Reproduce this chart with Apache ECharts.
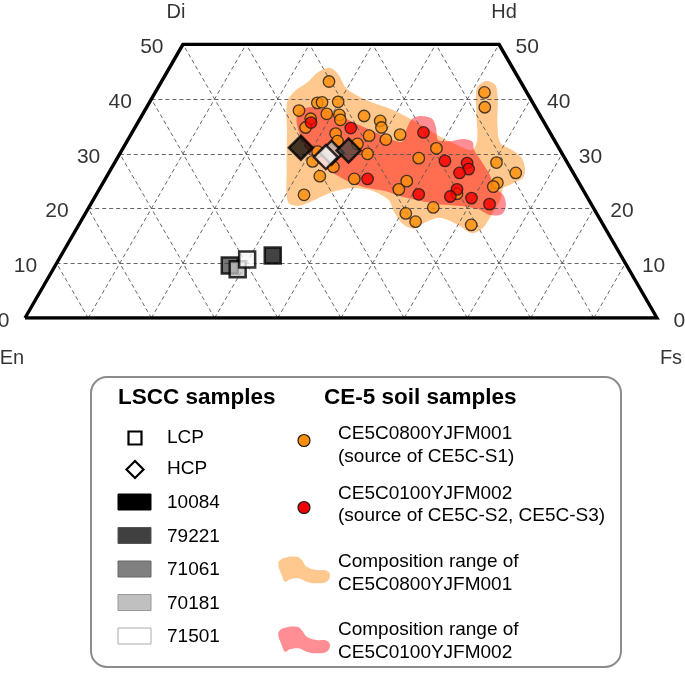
<!DOCTYPE html>
<html><head><meta charset="utf-8">
<script src="https://cdn.jsdelivr.net/npm/echarts@6/dist/echarts.min.js"></script>
<style>html,body{margin:0;padding:0;background:#fff}#c{width:685px;height:684px}</style>
</head><body><div id="c"></div>
<script>
const FONT = '"Liberation Sans", Arial, Helvetica, sans-serif';

// End members of the pyroxene quadrilateral (Wo, Fs in mol%)
const cornerNames = ['En', 'Di', 'Hd', 'Fs'];
const cornerWo = [0, 50, 50, 0];
const cornerFs = [0, 0, 50, 100];
const woTicks = [0, 10, 20, 30, 40, 50];
const gridSteps = [10, 20, 30, 40, 50, 60, 70, 80, 90];

// CE5C0800YJFM001 (orange) pyroxenes: Wo, Fs
const ce800Wo = [43.2, 39.3, 39.4, 39.5, 37.9, 36.4, 37.3, 37.1, 36.2, 36.9, 36.0, 34.8, 34.8, 33.7, 32.3, 31.8, 33.3, 32.6, 33.5, 30.0, 30.4, 28.6, 27.6, 25.9, 25.4, 23.5, 25.0, 22.5, 41.2, 38.5, 31.0, 29.2, 28.4, 26.5, 24.7, 24.0, 20.2, 19.1, 17.6, 17.0, 22.7];
const ce800Fs = [26.5, 26.6, 27.3, 29.8, 24.4, 27.0, 29.1, 31.2, 31.8, 35.2, 38.2, 39.0, 27.0, 32.3, 33.3, 36.7, 37.8, 40.8, 42.6, 39.2, 31.1, 31.2, 35.0, 33.7, 39.4, 47.4, 47.9, 32.9, 52.1, 53.5, 49.6, 47.7, 60.4, 64.4, 62.4, 62.1, 54.5, 50.7, 53.0, 62.1, 57.0];

// CE5C0100YJFM002 (red) pyroxenes: Wo, Fs
const ce100Wo = [35.7, 34.7, 25.4, 33.9, 28.7, 28.3, 27.2, 26.5, 23.5, 22.2, 22.6, 21.9, 20.8];
const ce100Fs = [27.4, 34.2, 41.5, 46.1, 52.1, 55.8, 56.6, 55.5, 56.6, 56.2, 51.0, 59.7, 63.1];

// LSCC samples
const sampleNames = ['10084', '79221', '71061', '70181', '71501'];
const sampleFill = ['rgba(0,0,0,0.92)', 'rgba(64,64,64,0.9)', 'rgba(128,128,128,0.9)', 'rgba(192,192,192,0.95)', 'rgba(250,250,250,0.95)'];
const sampleLegendFill = ['#000000', '#404040', '#808080', '#c0c0c0', '#ffffff'];
const sampleLegendStroke = ['#000000', '#555555', '#666666', '#999999', '#aaaaaa'];

const lcpSample = ['79221', '70181', '71501', '10084'];
const lcpWo = [9.6, 8.9, 10.7, 11.4];
const lcpFs = [27.6, 29.2, 29.8, 33.5];

const hcpSample = ['10084', '70181', '71501', '79221'];
const hcpWo = [31.1, 30.2, 29.4, 30.6];
const hcpFs = [28.1, 33.4, 32.9, 35.9];

// Composition range outlines: Wo, Fs
const range800Wo = [44.9, 45.7, 44.6, 42.0, 40.6, 39.3, 38.2, 36.9, 35.4, 33.2, 31.8, 30.7, 32.5, 38.0, 42.0, 43.3, 42.6, 40.2, 35.3, 32.0, 30.7, 29.4, 27.4, 25.6, 24.5, 23.7, 21.6, 19.0, 16.4, 15.5, 17.0, 18.3, 17.4, 16.3, 17.2, 19.4, 21.6, 23.4, 23.7, 23.0, 21.6, 20.5, 21.2, 27.0, 34.3, 39.3, 41.3, 43.1];
const range800Fs = [23.9, 25.4, 27.2, 29.8, 32.3, 35.4, 38.7, 41.7, 44.8, 49.0, 52.1, 55.4, 55.3, 52.4, 50.5, 51.3, 53.1, 54.7, 57.1, 59.2, 61.7, 63.8, 65.4, 66.0, 64.8, 63.8, 64.4, 64.4, 64.2, 63.0, 60.0, 56.5, 54.5, 53.4, 51.1, 48.7, 46.7, 42.9, 39.5, 37.1, 35.1, 33.0, 31.0, 27.9, 24.3, 21.8, 21.9, 23.2];
const range100Wo = [37.6, 38.5, 38.0, 36.9, 35.6, 34.2, 32.7, 32.2, 34.7, 36.4, 36.9, 36.4, 34.7, 32.5, 32.3, 32.7, 32.2, 30.7, 28.9, 26.1, 23.7, 22.5, 20.6, 19.0, 18.8, 19.9, 20.5, 20.8, 21.4, 22.3, 23.2, 23.9, 25.0, 26.5, 28.0, 30.1, 32.5, 35.3];
const range100Fs = [24.4, 25.8, 28.5, 31.4, 34.4, 37.8, 41.4, 43.6, 43.1, 43.1, 44.1, 46.2, 47.7, 49.1, 51.1, 53.0, 54.7, 55.7, 57.6, 60.5, 62.5, 64.4, 65.8, 66.0, 64.2, 61.7, 58.6, 55.2, 51.8, 48.2, 45.4, 41.8, 38.6, 35.5, 32.7, 30.0, 27.6, 25.4];

const ORANGE = '#FF8E0A', RED = '#F50000', PEACH = '#FFC88E', PINK = '#FF8E94', SALMON = '#FF6E50';

// quadrilateral coordinates: x = Fs + Wo/2, y = Wo
function xy(wo, fs) { return [fs + wo / 2, wo]; }

const chart = echarts.init(document.getElementById('c'), null, { renderer: 'canvas' });

function ranges(params, api) {
  if (params.dataIndex !== 0) return null;
  const orangePts = range800Wo.map((w, i) => api.coord(xy(w, range800Fs[i])));
  const redPts = range100Wo.map((w, i) => api.coord(xy(w, range100Fs[i])));
  return {
    type: 'group',
    children: [
      { type: 'polygon', shape: { points: orangePts, smooth: 0.3 }, style: { fill: PEACH } },
      { type: 'polygon', shape: { points: redPts, smooth: 0.3 }, style: { fill: PINK } },
      { type: 'polygon', shape: { points: redPts, smooth: 0.3 }, style: { fill: SALMON },
        clipPath: { type: 'polygon', shape: { points: orangePts, smooth: 0.3 } } }
    ]
  };
}

// dashed internal grid
const gridLines = [];
[10, 20, 30, 40].forEach(w => gridLines.push({ coords: [xy(w, 0), xy(w, 100 - w)] }));
gridSteps.forEach(f => { const wEnd = Math.min(50, 100 - f); gridLines.push({ coords: [xy(0, f), xy(wEnd, f)] }); });
gridSteps.forEach(e => { const wEnd = Math.min(50, 100 - e); gridLines.push({ coords: [xy(0, 100 - e), xy(wEnd, 100 - e - wEnd)] }); });

const outline = [0, 1, 2, 3, 0].map(i => xy(cornerWo[i], cornerFs[i]));

function fillOf(name) { return sampleFill[sampleNames.indexOf(name)]; }

const labelBase = { show: true, color: '#000', fontFamily: FONT, fontSize: 21 };

const option = {
  animation: false,
  grid: { left: 25, top: 44.3, width: 632, height: 273.7 },
  xAxis: { type: 'value', min: 0, max: 100, show: false },
  yAxis: { type: 'value', min: 0, max: 50, show: false },
  series: [
    {
      type: 'custom', coordinateSystem: 'cartesian2d', z: 1, silent: true, clip: false,
      data: range800Wo.map((w, i) => xy(w, range800Fs[i])),
      renderItem: ranges
    },
    {
      type: 'lines', coordinateSystem: 'cartesian2d', z: 3, silent: true,
      lineStyle: { color: '#555', width: 0.9, type: [4, 3], opacity: 1 },
      data: gridLines
    },
    {
      type: 'line', z: 4, silent: true, symbol: 'none',
      lineStyle: { color: '#000', width: 3.4, join: 'miter' },
      data: outline
    },
    { // left Wo ticks
      type: 'scatter', z: 5, silent: true, symbolSize: 1, itemStyle: { color: 'transparent' },
      data: woTicks.map(w => ({ value: xy(w, 0), label: { distance: w === 0 ? 15 : 19 } })),
      label: Object.assign({}, labelBase, { position: 'left', offset: [0, 3], formatter: p => String(p.value[1]) })
    },
    { // right Wo ticks
      type: 'scatter', z: 5, silent: true, symbolSize: 1, itemStyle: { color: 'transparent' },
      data: woTicks.map(w => xy(w, 100 - w)),
      label: Object.assign({}, labelBase, { position: 'right', distance: 16, offset: [0, 3], formatter: p => String(p.value[1]) })
    },
    { // end-member names
      type: 'scatter', z: 5, silent: true, symbolSize: 1, itemStyle: { color: 'transparent' },
      data: cornerNames.map((n, i) => ({
        value: xy(cornerWo[i], cornerFs[i]), name: n,
        label: i === 0 ? { position: 'inside', offset: [-13, 40] } :
               i === 3 ? { position: 'inside', offset: [14, 40] } :
               { position: 'inside', offset: [i === 1 ? -7 : 5, -32] }
      })),
      label: Object.assign({}, labelBase, { fontSize: 20, formatter: p => p.name })
    },
    {
      type: 'scatter', z: 6, name: 'CE5C0800YJFM001', symbol: 'circle', symbolSize: 11.5,
      itemStyle: { color: ORANGE, borderColor: '#1a1a1a', borderWidth: 1.3 },
      data: ce800Wo.map((w, i) => xy(w, ce800Fs[i]))
    },
    {
      type: 'scatter', z: 7, name: 'CE5C0100YJFM002', symbol: 'circle', symbolSize: 11.5,
      itemStyle: { color: RED, borderColor: '#1a1a1a', borderWidth: 1.3 },
      data: ce100Wo.map((w, i) => xy(w, ce100Fs[i]))
    },
    {
      type: 'scatter', z: 8, name: 'LCP', symbol: 'rect', symbolSize: 16,
      itemStyle: { borderColor: '#000', borderWidth: 2.5 },
      data: lcpWo.map((w, i) => ({ value: xy(w, lcpFs[i]), name: lcpSample[i], itemStyle: { color: fillOf(lcpSample[i]) } }))
    },
    {
      type: 'scatter', z: 8, name: 'HCP', symbol: 'diamond', symbolSize: 24,
      itemStyle: { borderColor: '#000', borderWidth: 2.5 },
      data: hcpWo.map((w, i) => ({ value: xy(w, hcpFs[i]), name: hcpSample[i], itemStyle: { color: fillOf(hcpSample[i]) } }))
    }
  ],
  graphic: []
};

// ---- legend box (drawn as graphics) ----
const g = option.graphic;
g.push({ type: 'rect', shape: { x: 91, y: 377, width: 530, height: 290, r: 16 }, style: { fill: 'none', stroke: '#8c8c8c', lineWidth: 2 }, silent: true });
function txt(s, x, y, opts) {
  g.push({ type: 'text', x: x, y: y, silent: true,
    style: Object.assign({ text: s, fill: '#000', font: '19px ' + FONT, textAlign: 'left', textVerticalAlign: 'middle' }, opts || {}) });
}
txt('LSCC samples', 118, 398, { font: 'bold 22.5px ' + FONT });
txt('CE-5 soil samples', 324, 398, { font: 'bold 22.5px ' + FONT });

// LCP / HCP symbol keys
g.push({ type: 'rect', shape: { x: 128.5, y: 431.5, width: 13, height: 13 }, style: { fill: '#fff', stroke: '#000', lineWidth: 2.2 }, silent: true });
txt('LCP', 167, 438);
g.push({ type: 'polygon', shape: { points: [[135, 461], [143.5, 469.5], [135, 478], [126.5, 469.5]] }, style: { fill: '#fff', stroke: '#000', lineWidth: 2.2 }, silent: true });
txt('HCP', 167, 469);

const sampleRowY = [502, 535.5, 569, 602.5, 636];
sampleNames.forEach((n, i) => {
  g.push({ type: 'rect', shape: { x: 118, y: sampleRowY[i] - 8, width: 33, height: 16 }, style: { fill: sampleLegendFill[i], stroke: sampleLegendStroke[i], lineWidth: 1 }, silent: true });
  txt(n, 167, sampleRowY[i] + 1);
});

// CE-5 keys
g.push({ type: 'circle', shape: { cx: 304, cy: 440.5, r: 6 }, style: { fill: ORANGE, stroke: '#1a1a1a', lineWidth: 1.2 }, silent: true });
txt('CE5C0800YJFM001', 338, 434);
txt('(source of CE5C-S1)', 338, 457);
g.push({ type: 'circle', shape: { cx: 304, cy: 507.5, r: 6 }, style: { fill: RED, stroke: '#1a1a1a', lineWidth: 1.2 }, silent: true });
txt('CE5C0100YJFM002', 338, 494);
txt('(source of CE5C-S2, CE5C-S3)', 338, 516);

const swatchShape = [[278.3, 563.3], [283.3, 558.3], [296.7, 556.7], [301.7, 560], [306.7, 566.7], [316.7, 570], [326.7, 570.7], [330, 575], [326.7, 581.7], [316.7, 583.3], [306.7, 581.7], [298.3, 578.3], [290, 579.3], [285, 581.7], [281.7, 575]];
g.push({ type: 'polygon', shape: { points: swatchShape, smooth: 0.4 }, style: { fill: PEACH }, silent: true });
g.push({ type: 'polygon', shape: { points: swatchShape.map(p => [p[0], p[1] + 70]), smooth: 0.4 }, style: { fill: PINK }, silent: true });
txt('Composition range of', 338, 562);
txt('CE5C0800YJFM001', 338, 585);
txt('Composition range of', 338, 630);
txt('CE5C0100YJFM002', 338, 653);

chart.setOption(option);
</script>
</body></html>
